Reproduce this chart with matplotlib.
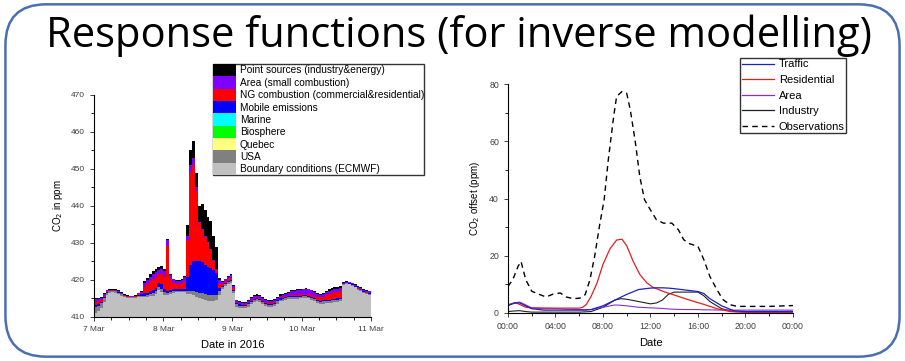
import numpy as np
import matplotlib
matplotlib.use('Agg')
import matplotlib.pyplot as plt
from matplotlib.patches import FancyBboxPatch, Patch
from matplotlib.lines import Line2D

# ---- left panel: hourly stacked contributions, 7 Mar 00:00 .. 11 Mar 00:00
hours = np.arange(97)
day_ticks = [0, 24, 48, 72, 96]
day_labels = ['7 Mar', '8 Mar', '9 Mar', '10 Mar', '11 Mar']

boundary = [411.0, 411.5, 412.5, 414.0, 416.0, 416.6, 416.7, 416.6, 416.3, 415.8,
            415.3, 415.1, 415.0, 415.0, 415.1, 415.3, 415.4, 415.3, 415.4, 415.6,
            415.8, 416.2, 417.3, 416.8, 416.0, 416.0, 416.3, 416.6, 416.7, 416.8,
            416.8, 416.7, 416.3, 416.2, 416.0, 415.5, 415.0, 414.8, 414.5, 414.3,
            414.2, 414.3, 414.5, 416.0, 417.5, 418.5, 419.0, 419.3, 416.5, 412.8,
            412.5, 412.3, 412.4, 412.8, 413.5, 414.0, 414.2, 414.0, 413.4, 412.9,
            412.6, 412.6, 412.9, 413.6, 414.2, 414.4, 414.6, 414.8, 414.8, 414.8,
            414.9, 415.0, 415.2, 415.2, 415.0, 414.7, 414.2, 413.7, 413.5, 413.6,
            413.8, 413.8, 413.9, 414.0, 414.1, 414.3, 418.6, 418.9, 418.8, 418.5,
            418.0, 417.4, 416.9, 416.5, 416.2, 416.0, 416.0]
usa = [1.8, 1.5, 1.2, 1.0, 0.6, 0.3, 0.3, 0.3, 0.3, 0.3,
       0.3, 0.3, 0.3, 0.3, 0.3, 0.4, 0.4, 0.5, 0.5, 0.5,
       0.6, 0.7, 0.8, 0.8, 0.7, 0.5, 0.5, 0.4, 0.4, 0.3,
       0.3, 0.3, 0.6, 0.8, 1.0, 1.2, 1.5, 1.6, 1.6, 1.7,
       1.7, 1.6, 1.5, 1.0, 0.6, 0.5, 0.5, 0.4, 0.5, 0.6,
       0.6, 0.6, 0.6, 0.6, 0.6, 0.6, 0.6, 0.6, 0.6, 0.6,
       0.6, 0.6, 0.6, 0.6, 0.5, 0.5, 0.5, 0.5, 0.5, 0.5,
       0.5, 0.5, 0.5, 0.5, 0.5, 0.5, 0.6, 0.6, 0.6, 0.6,
       0.6, 0.6, 0.6, 0.6, 0.6, 0.6, 0.2, 0.2, 0.2, 0.2,
       0.2, 0.2, 0.3, 0.3, 0.3, 0.3, 0.3]
mobile = [0.4, 0.4, 0.3, 0.3, 0.1, 0.1, 0.1, 0.1, 0.1, 0.1,
          0.1, 0.1, 0.1, 0.1, 0.1, 0.2, 0.3, 0.6, 0.7, 0.8,
          0.9, 1.0, 1.0, 1.2, 1.0, 0.5, 0.6, 0.6, 0.5, 0.5,
          0.5, 0.7, 4.0, 7.0, 8.0, 8.3, 8.5, 8.4, 8.0, 7.6,
          7.3, 6.8, 5.9, 0.8, 0.3, 0.2, 0.2, 0.2, 0.3, 0.3,
          0.3, 0.3, 0.3, 0.3, 0.3, 0.3, 0.3, 0.3, 0.3, 0.4,
          0.4, 0.4, 0.4, 0.3, 0.3, 0.3, 0.3, 0.3, 0.3, 0.3,
          0.3, 0.3, 0.3, 0.3, 0.3, 0.3, 0.3, 0.3, 0.3, 0.3,
          0.3, 0.3, 0.3, 0.3, 0.3, 0.3, 0.1, 0.1, 0.1, 0.1,
          0.1, 0.1, 0.1, 0.1, 0.1, 0.1, 0.1]
ng = [0.8, 0.8, 0.6, 0.4, 0.2, 0.1, 0.1, 0.1, 0.1, 0.1,
      0.1, 0.1, 0.1, 0.1, 0.1, 0.2, 0.3, 1.8, 2.4, 2.8,
      3.0, 3.0, 2.5, 2.7, 3.0, 12.2, 2.8, 1.6, 1.3, 1.3,
      1.5, 2.0, 10.0, 25.0, 26.0, 19.0, 10.4, 8.7, 7.5, 6.4,
      4.8, 2.3, 0.7, 1.2, 0.6, 0.5, 0.6, 0.6, 0.5, 0.3,
      0.2, 0.2, 0.2, 0.2, 0.2, 0.2, 0.2, 0.2, 0.2, 0.2,
      0.2, 0.2, 0.2, 0.2, 0.2, 0.2, 0.2, 0.2, 0.3, 0.3,
      0.3, 0.3, 0.3, 0.3, 0.3, 0.4, 0.6, 0.8, 0.9, 1.0,
      1.2, 1.5, 1.7, 1.8, 1.8, 1.8, 0.1, 0.1, 0.1, 0.1,
      0.1, 0.1, 0.1, 0.1, 0.1, 0.1, 0.1]
area = [0.8, 0.7, 0.6, 0.5, 0.3, 0.2, 0.2, 0.2, 0.2, 0.2,
        0.2, 0.2, 0.2, 0.2, 0.2, 0.3, 0.3, 1.0, 1.1, 1.2,
        1.3, 1.3, 1.1, 1.4, 1.6, 1.6, 1.2, 1.0, 0.8, 0.8,
        0.9, 1.0, 1.0, 2.0, 2.0, 1.0, 0.4, 0.4, 0.4, 0.4,
        0.4, 0.4, 0.4, 1.0, 0.5, 0.5, 0.6, 0.8, 0.6, 0.5,
        0.4, 0.4, 0.4, 0.4, 0.4, 0.5, 0.5, 0.5, 0.5, 0.5,
        0.5, 0.5, 0.5, 0.5, 0.6, 0.6, 0.6, 0.7, 1.0, 1.2,
        1.3, 1.3, 1.2, 1.3, 1.4, 1.3, 1.0, 0.8, 0.7, 0.7,
        0.8, 0.9, 0.9, 0.9, 0.8, 0.8, 0.2, 0.2, 0.2, 0.2,
        0.3, 0.3, 0.4, 0.4, 0.4, 0.4, 0.4]
point = [0.3, 0.3, 0.2, 0.2, 0.2, 0.2, 0.2, 0.2, 0.2, 0.2,
         0.2, 0.2, 0.1, 0.1, 0.1, 0.1, 0.2, 0.4, 0.5, 0.7,
         0.8, 0.8, 0.8, 1.0, 0.7, 0.3, 0.2, 0.2, 0.2, 0.2,
         0.2, 0.3, 3.0, 4.0, 4.5, 4.0, 4.2, 6.6, 7.0, 6.6,
         7.6, 6.6, 6.0, 0.5, 0.2, 0.2, 0.2, 0.3, 0.2, 0.2,
         0.2, 0.2, 0.2, 0.2, 0.3, 0.3, 0.3, 0.3, 0.3, 0.3,
         0.3, 0.2, 0.2, 0.3, 0.3, 0.3, 0.3, 0.3, 0.3, 0.2,
         0.2, 0.2, 0.2, 0.2, 0.2, 0.2, 0.3, 0.3, 0.3, 0.4,
         0.4, 0.5, 0.5, 0.5, 0.5, 0.5, 0.2, 0.1, 0.1, 0.2,
         0.2, 0.3, 0.3, 0.3, 0.2, 0.2, 0.2]

stack_labels = ['Point sources (industry&energy)', 'Area (small combustion)',
                'NG combustion (commercial&residential)', 'Mobile emissions',
                'Marine', 'Biosphere', 'Quebec', 'USA', 'Boundary conditions (ECMWF)']
stack_colors = ['#000000', '#7f00ff', '#ff0000', '#0000ff',
                '#00ffff', '#00ff00', '#ffff80', '#808080', '#c0c0c0']

# ---- right panel: response functions over one day
t_obs = [0, 0.4, 0.85, 1.1, 1.5, 2, 2.7, 3.2, 3.8, 4.4, 4.9, 5.5, 6.05, 6.5, 6.9,
         7.3, 7.7, 8.1, 8.45, 8.9, 9.15, 9.6, 10, 10.3, 10.7, 11.1, 11.5, 12, 12.5,
         13.1, 13.8, 14.35, 14.8, 15.3, 16, 16.5, 17, 17.6, 18.1, 18.7, 19.3, 20.4,
         22, 24]
observations = [9.3, 11.6, 16.3, 18, 11.6, 7.6, 6.4, 5.6, 6.6, 7, 5.6, 5, 5.2, 6.4,
                11.6, 19.8, 30.3, 39.6, 53.6, 68.7, 75.7, 77.4, 76.8, 71, 60.5, 47.7,
                39.6, 36, 32.6, 31.4, 31.4, 29.1, 25.6, 24.2, 23.3, 18.6, 12.8, 8.1,
                4.7, 2.9, 2.3, 2.3, 2.3, 2.6]

t_res = [0, 0.7, 1.5, 2, 4, 6, 6.3, 6.6, 7, 7.5, 8, 8.6, 9.15, 9.6, 10, 10.55, 11.1,
         11.7, 12.2, 13.1, 14.2, 15.3, 16.5, 17.6, 18.7, 20, 24]
residential = [2.9, 3.5, 2.0, 1.8, 1.7, 1.7, 2.0, 3.0, 5.8, 10.5, 17, 22.5, 25.5,
               25.8, 23.5, 18, 13.5, 10.5, 9, 7.5, 6, 4.5, 3, 1.5, 0.5, 0.3, 0.3]

t_src = [0, 0.5, 1, 1.5, 2, 3, 4, 5, 6, 6.5, 7, 8, 9, 9.5, 10, 11, 12, 12.5, 13, 13.5,
         14, 15, 16, 16.5, 17, 18, 19, 20, 22, 24]
traffic = [2.5, 3.5, 3.5, 2.5, 1.5, 1.0, 1.0, 1.0, 1.0, 1.0, 1.2, 2.5, 4.5, 5.5, 6.5,
           8.2, 8.7, 8.8, 8.8, 8.7, 8.5, 8.0, 7.5, 6.8, 5.0, 2.5, 0.8, 0.5, 0.5, 0.5]
area_rf = [2.8, 3.5, 3.8, 2.8, 1.8, 1.5, 1.5, 1.3, 1.2, 1.2, 1.2, 2.0, 2.8, 2.7, 2.5,
           2.0, 1.8, 1.7, 1.6, 1.4, 1.3, 1.2, 1.2, 1.1, 1.1, 1.0, 1.0, 1.0, 1.0, 1.0]
industry = [0.5, 0.7, 0.8, 0.5, 0.3, 0.3, 0.3, 0.3, 0.3, 0.4, 0.5, 2.0, 4.5, 5.0, 4.8,
            4.0, 3.2, 3.5, 4.5, 6.5, 7.3, 7.3, 7.3, 6.0, 4.0, 1.5, 0.5, 0.3, 0.3, 0.3]

hour_ticks = [0, 4, 8, 12, 16, 20, 24]
hour_labels = ['00:00', '04:00', '08:00', '12:00', '16:00', '20:00', '00:00']

fig = plt.figure(figsize=(9.05, 3.61), dpi=100)
plt.rcParams['font.family'] = ['Liberation Sans', 'DejaVu Sans']

# slide frame
frame = FancyBboxPatch((0.006, 0.012), 0.988, 0.976, boxstyle='round,pad=0,rounding_size=0.045',
                       transform=fig.transFigure, facecolor='none', edgecolor='#4a6eb4',
                       linewidth=1.8, mutation_aspect=905 / 361, zorder=-1)
fig.patches.append(frame)

fig.text(0.507, 0.9, 'Response functions (for inverse modelling)', ha='center', va='center',
         fontsize=30, family='Open Sans')

# left: stacked area
ax0 = fig.add_axes([0.1039, 0.1219, 0.306, 0.615])
layers = [boundary, usa, mobile, ng, area, point]
ax0.stackplot(hours, layers, colors=['#c0c0c0', '#808080', '#0000ff', '#ff0000', '#7f00ff', '#000000'],
              step='post', linewidth=0)
ax0.set_xlim(0, 96)
ax0.set_ylim(410, 470)
ax0.set_xticks(day_ticks)
ax0.set_xticklabels(day_labels)
ax0.set_xticks(np.arange(0, 97, 6), minor=True)
ax0.set_yticks([410, 420, 430, 440, 450, 460, 470])
ax0.set_yticks(np.arange(415, 470, 10), minor=True)
ax0.tick_params(labelsize=6, length=3, width=0.7, colors='#404040')
ax0.tick_params(which='minor', length=2, width=0.6)
for s in ['top', 'right']:
    ax0.spines[s].set_visible(False)
for s in ['left', 'bottom']:
    ax0.spines[s].set_linewidth(0.8)
ax0.set_xlabel('Date in 2016', fontsize=8, labelpad=5)
ax0.set_ylabel('CO$_2$ in ppm', fontsize=7, labelpad=4)

handles0 = [Patch(facecolor=c, edgecolor='none') for c in stack_colors]
leg0 = fig.legend(handles0, stack_labels, loc='upper left', bbox_to_anchor=(0.2354, 0.823),
                  fontsize=7.3, frameon=True, fancybox=False, edgecolor='black',
                  labelspacing=0.0, handlelength=2.3, handleheight=1.5, handletextpad=0.35,
                  borderpad=0.0, borderaxespad=0)
leg0.get_frame().set_linewidth(1.0)

# right: response functions
ax1 = fig.add_axes([0.5613, 0.133, 0.3149, 0.634])
ax1.plot(t_obs, observations, color='black', linestyle=(0, (4, 3)), linewidth=1.0)
ax1.plot(t_src, industry, color='#202020', linewidth=0.8)
ax1.plot(t_src, area_rf, color='#8a2be2', linewidth=0.8)
ax1.plot(t_res, residential, color='#e02020', linewidth=0.9)
ax1.plot(t_src, traffic, color='#2020c0', linewidth=0.9)
ax1.set_xlim(0, 24)
ax1.set_ylim(0, 80)
ax1.set_xticks(hour_ticks)
ax1.set_xticklabels(hour_labels)
ax1.set_xticks(np.arange(0, 25, 2), minor=True)
ax1.set_yticks([0, 20, 40, 60, 80])
ax1.set_yticks([10, 30, 50, 70], minor=True)
ax1.tick_params(labelsize=6.3, length=3, width=0.7, colors='#404040')
ax1.tick_params(which='minor', length=2, width=0.6)
for s in ['top', 'right']:
    ax1.spines[s].set_visible(False)
for s in ['left', 'bottom']:
    ax1.spines[s].set_linewidth(0.8)
ax1.set_xlabel('Date', fontsize=8, labelpad=5)
ax1.set_ylabel('CO$_2$ offset (ppm)', fontsize=7, labelpad=5)

handles1 = [Line2D([], [], color='#2020c0', lw=0.9),
            Line2D([], [], color='#e02020', lw=0.9),
            Line2D([], [], color='#8a2be2', lw=0.9),
            Line2D([], [], color='#202020', lw=0.9),
            Line2D([], [], color='black', lw=1.0, linestyle=(0, (4, 3)))]
leg1 = fig.legend(handles1, ['Traffic', 'Residential', 'Area', 'Industry', 'Observations'],
                  loc='upper right', bbox_to_anchor=(0.935, 0.84), fontsize=8,
                  frameon=True, fancybox=False, edgecolor='black', labelspacing=0.5,
                  handlelength=2.9, handletextpad=0.4, borderpad=0.15, borderaxespad=0)
leg1.get_frame().set_linewidth(1.0)

fig.savefig('out.png', dpi=100)
